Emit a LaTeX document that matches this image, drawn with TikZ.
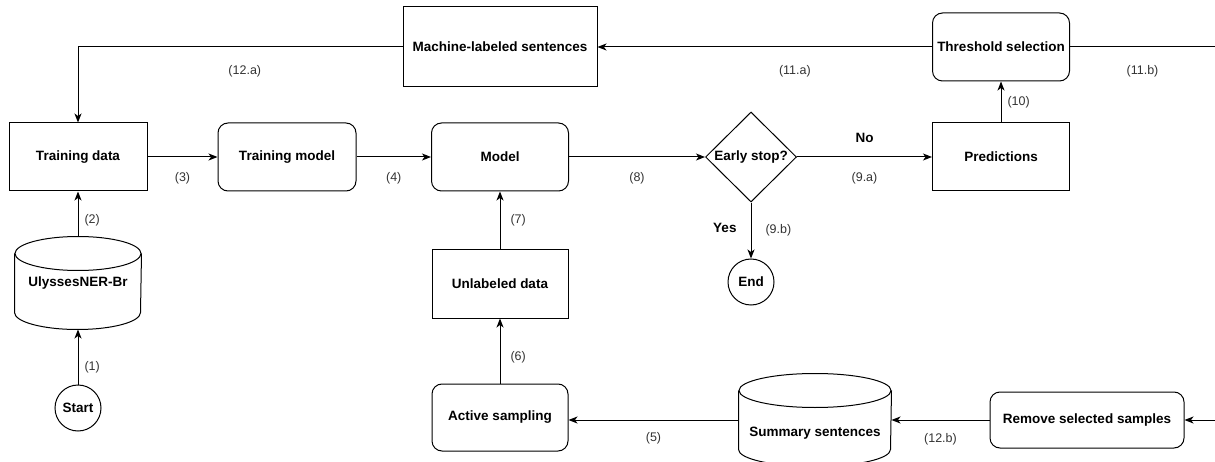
\documentclass[tikz,border=0pt]{standalone}
\usepackage{fontspec}
\setmainfont{Liberation Sans}
\usetikzlibrary{shapes.geometric,arrows.meta}

\begin{document}
\begin{tikzpicture}[x=1pt, y=-1pt,
  base/.style={draw, line width=1pt, align=center, inner sep=0pt,
    font=\fontsize{13.5}{15}\selectfont\bfseries},
  plainbox/.style={base, rectangle, minimum width=138pt, minimum height=68pt},
  roundbox/.style={plainbox, rounded corners=10pt},
  store/.style={base, draw=none, rectangle, minimum width=126pt, minimum height=92pt},
  term/.style={base, circle, minimum size=46pt},
  choice/.style={base, diamond, minimum width=91pt, minimum height=90pt},
  flow/.style={line width=1pt, -{Stealth[length=9pt,width=7pt,inset=2.5pt]}},
  num/.style={font=\fontsize{12.5}{14}\selectfont, text=black!80, inner sep=0pt},
  ans/.style={font=\fontsize{13.5}{15}\selectfont\bfseries, inner sep=0pt}]

  % Rahmen
  \useasboundingbox (0,0) rectangle (1215,462);

  % obere Reihe
  \node[plainbox, minimum width=194pt, minimum height=80pt] (mls) at (500,47) {Machine-labeled sentences};
  \node[roundbox, minimum width=137pt] (thresh) at (1001,47) {Threshold selection};

  % mittlere Reihe
  \node[plainbox] (train) at (78,157) {Training data};
  \node[roundbox] (tmodel) at (287,157) {Training model};
  \node[roundbox, minimum width=137pt] (model) at (500,157) {Model};
  \node[choice, label={[ans]center:Early stop?}] (early) at (751,157) {};
  \node[plainbox, minimum width=137pt] (pred) at (1001,157) {Predictions};

  % Datenquelle und Start
  \node[store] (ulys) at (78,283) {UlyssesNER-Br};
  \node[term] (start) at (78,408) {Start};
  \node[term] (end) at (751,282) {End};

  % untere Reihe
  \node[plainbox, minimum width=136pt] (unl) at (500,284) {Unlabeled data};
  \node[roundbox, minimum width=136pt, minimum height=67pt] (act) at (500,417.5) {Active sampling};
  \node[store, minimum width=152pt, label={[ans, yshift=-13pt]center:Summary sentences}] (summ) at (815,420) {};
  \node[roundbox, minimum width=194pt, minimum height=56pt] (rem) at (1087,420) {Remove selected samples};

  % Zylinder-Umrisse
  \foreach \db/\rx in {ulys/63, summ/76} {
    \draw[line width=1pt] ([yshift=-17pt]\db.north) ellipse [x radius=\rx pt, y radius=17pt];
    \draw[line width=1pt] ([yshift=-17pt]\db.north west) -- ([yshift=17pt]\db.south west)
      arc [start angle=180, end angle=360, x radius=\rx pt, y radius=17pt]
      -- ([yshift=-17pt]\db.north east);
  }

  % freie Enden am rechten Rand
  \coordinate (outtop) at (1215,47);
  \coordinate (outbot) at (1215,420);

  % Verbindungen
  \draw[flow] (start) -- node[num, pos=0.32, right=6pt] {(1)} (ulys);
  \draw[flow] (ulys) -- node[num, pos=0.35, right=6pt] {(2)} (train);
  \draw[flow] (train) -- node[num, midway, below=15pt] {(3)} (tmodel);
  \draw[flow] (tmodel) -- node[num, midway, below=15pt] {(4)} (model);
  \draw[flow] (model) -- node[num, midway, below=15pt] {(8)} (early);
  \draw[flow] (early) -- node[ans, midway, above=14pt] {No}
    node[num, midway, below=15pt] {(9.a)} (pred);
  \draw[flow] (early) -- node[ans, pos=0.45, left=14pt] {Yes}
    node[num, midway, right=14pt] {(9.b)} (end);
  \draw[flow] (pred) -- node[num, midway, right=6pt] {(10)} (thresh);
  \draw[flow] (thresh) -- node[num, pos=0.41, below=18pt] {(11.a)} (mls);
  \draw[line width=1pt] (thresh) -- node[num, midway, below=18pt] {(11.b)} (outtop);
  \draw[flow] (mls) -| node[num, pos=0.243, below=18pt] {(12.a)} (train);
  \draw[flow] (outbot) -- (rem);
  \draw[flow] (rem) -- node[num, midway, below=13pt] {(12.b)} (summ);
  \draw[flow] (summ.west) -- node[num, midway, below=12pt] {(5)} (act.east |- summ.west);
  \draw[flow] (act) -- node[num, pos=0.41, right=10pt] {(6)} (unl);
  \draw[flow] (unl) -- node[num, midway, right=10pt] {(7)} (model);
\end{tikzpicture}
\end{document}
